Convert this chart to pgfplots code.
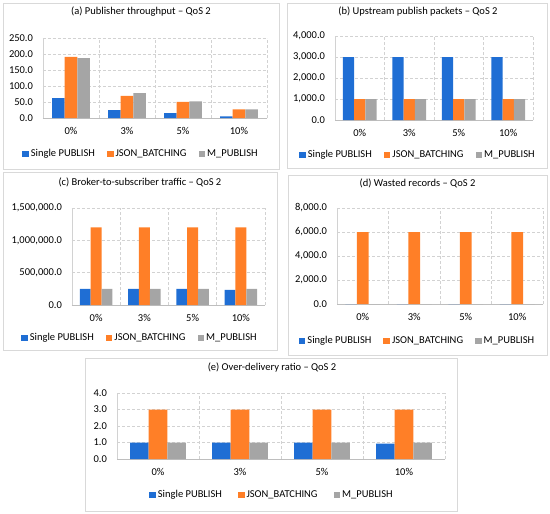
\documentclass[border=0pt]{standalone}
\usepackage{fontspec}
\setmainfont{Carlito}
\usepackage{pgfplots}
\pgfplotsset{compat=1.18}
\definecolor{cblue}{RGB}{31,110,212}
\definecolor{corange}{RGB}{255,127,39}
\definecolor{cgray}{RGB}{165,165,165}
\definecolor{gridcol}{RGB}{210,210,210}
\definecolor{axcol}{RGB}{190,190,190}
\definecolor{framecol}{RGB}{217,217,217}
\newcommand\cf{\fontsize{10.5}{12.6}\selectfont}
\pgfplotsset{
  excel/.style={
    scale only axis,
    xmin=-0.5, xmax=3.5, ymin=0,
    xtick={0,1,2,3}, xticklabels={0\%,3\%,5\%,10\%},
    minor xtick={0.5,1.5,2.5,3.5},
    xminorgrids=true, ymajorgrids=true, xmajorgrids=false,
    major tick length=0pt, minor tick length=0pt,
    axis x line*=bottom, axis y line*=left,
    x axis line style={draw=axcol, line width=0.75pt},
    y axis line style={draw=gridcol, line width=0.75pt},
    major grid style={draw=gridcol, dash pattern=on 3pt off 2pt, line width=0.6pt},
    minor grid style={draw=gridcol, dash pattern=on 3pt off 2pt, line width=0.6pt},
    ticklabel style={font=\cf},
    /pgf/number format/assume math mode=true,
    yticklabel style={xshift=-6.5pt, /pgf/number format/fixed, /pgf/number format/fixed zerofill, /pgf/number format/precision=1, /pgf/number format/1000 sep={,}},
    xticklabel style={yshift=-6pt},
    scaled y ticks=false,
    ybar, bar width=0.226,
    legend columns=3,
    legend style={draw=none, fill=none, font=\cf, anchor=center, inner sep=0pt,
      /tikz/every even column/.append style={column sep=10pt}},
    legend image code/.code={\fill[##1] (0pt,-3.3pt) rectangle (6.6pt,3.3pt);},
    title style={font=\cf, anchor=center, inner sep=0pt},
  },
  sb/.style={fill=cblue, draw=none, bar shift=-0.226},
  jb/.style={fill=corange, draw=none, bar shift=0},
  mp/.style={fill=cgray, draw=none, bar shift=0.226},
}
\begin{document}
\begin{tikzpicture}
\path (0pt,0pt) rectangle (550pt,-514pt);
\draw[framecol, line width=0.8pt] (3pt,-3pt) rectangle (279pt,-169pt);
\draw[framecol, line width=0.8pt] (287pt,-3pt) rectangle (547pt,-168pt);
\draw[framecol, line width=0.8pt] (3pt,-172pt) rectangle (277pt,-350pt);
\draw[framecol, line width=0.8pt] (288pt,-175pt) rectangle (547pt,-355pt);
\draw[framecol, line width=0.8pt] (85pt,-358pt) rectangle (457pt,-511pt);

% (a)
\begin{axis}[excel, at={(43pt,-118pt)}, anchor=south west, width=224pt, height=80pt,
  ymax=250, ytick={0,50,...,250},
  title={(a) Publisher throughput – QoS 2}, title style={at={(0.4375,1.25)}},
  legend style={at={(0.4375,-0.45)}}]
\addplot[sb] coordinates {(0,62) (1,24.8) (2,15.5) (3,5.2)};
\addplot[jb] coordinates {(0,191) (1,69) (2,50.6) (3,27)};
\addplot[mp] coordinates {(0,187) (1,77.5) (2,51.7) (3,27)};
\legend{Single PUBLISH, JSON\_BATCHING, M\_PUBLISH}
\end{axis}

% (b)
\begin{axis}[excel, at={(335pt,-120pt)}, anchor=south west, width=198pt, height=84pt,
  ymax=4000, ytick={0,1000,...,4000},
  title={(b) Upstream publish packets – QoS 2}, title style={at={(0.419,1.226)}},
  legend style={at={(0.419,-0.417)}}]
\addplot[sb] coordinates {(0,3000) (1,3000) (2,3000) (3,3000)};
\addplot[jb] coordinates {(0,1000) (1,1000) (2,1000) (3,1000)};
\addplot[mp] coordinates {(0,1000) (1,1000) (2,1000) (3,1000)};
\legend{Single PUBLISH, JSON\_BATCHING, M\_PUBLISH}
\end{axis}

% (c)
\begin{axis}[excel, at={(72pt,-305pt)}, anchor=south west, width=193pt, height=97pt,
  ymax=1500000, ytick={0,500000,1000000,1500000},
  title={(c) Broker-to-subscriber traffic – QoS 2}, title style={at={(0.352,1.206)}},
  legend style={at={(0.352,-0.34)}}]
\addplot[sb] coordinates {(0,250000) (1,250000) (2,250000) (3,235000)};
\addplot[jb] coordinates {(0,1200000) (1,1200000) (2,1200000) (3,1200000)};
\addplot[mp] coordinates {(0,250000) (1,250000) (2,250000) (3,248000)};
\legend{Single PUBLISH, JSON\_BATCHING, M\_PUBLISH}
\end{axis}

% (d)
\begin{axis}[excel, at={(337pt,-304pt)}, anchor=south west, width=206pt, height=96pt,
  ymax=8000, ytick={0,2000,...,8000},
  title={(d) Wasted records – QoS 2}, title style={at={(0.391,1.198)}},
  legend style={at={(0.391,-0.385)}}]
\addplot[sb] coordinates {(0,0) (1,0) (2,0) (3,0)};
\addplot[jb] coordinates {(0,6000) (1,6000) (2,6000) (3,6000)};
\addplot[mp] coordinates {(0,0) (1,0) (2,0) (3,0)};
\legend{Single PUBLISH, JSON\_BATCHING, M\_PUBLISH}
\end{axis}

% (e)
\begin{axis}[excel, at={(117pt,-459pt)}, anchor=south west, width=328pt, height=66pt,
  ymax=4, ytick={0,1,...,4},
  title={(e) Over-delivery ratio – QoS 2}, title style={at={(0.4726,1.303)}},
  legend style={at={(0.4726,-0.545)}, /tikz/every even column/.append style={column sep=14pt}}]
\addplot[sb] coordinates {(0,1) (1,1) (2,1) (3,0.93)};
\addplot[jb] coordinates {(0,3) (1,3) (2,3) (3,3)};
\addplot[mp] coordinates {(0,1) (1,1) (2,1) (3,1)};
\legend{Single PUBLISH, JSON\_BATCHING, M\_PUBLISH}
\end{axis}
\end{tikzpicture}
\end{document}
